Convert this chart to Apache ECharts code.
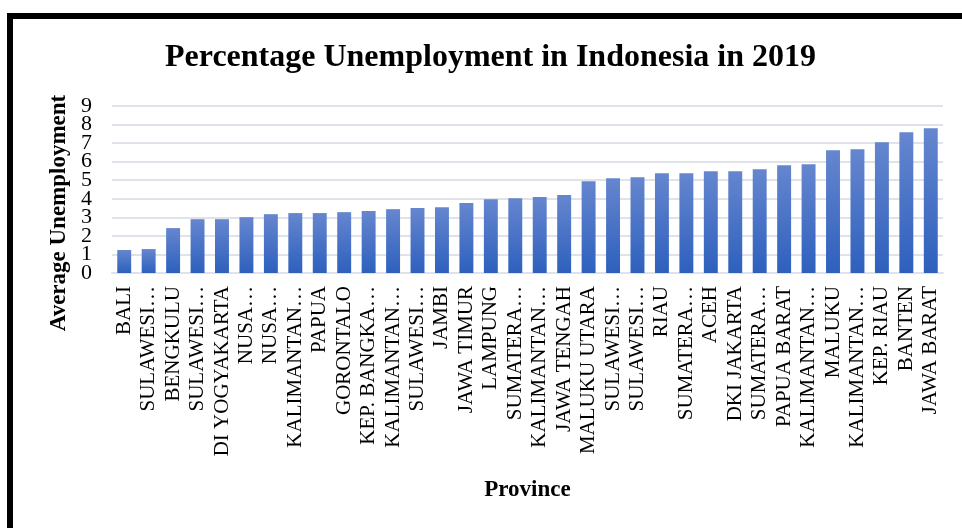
<!DOCTYPE html>
<html>
<head>
<meta charset="utf-8">
<script src="https://cdn.jsdelivr.net/npm/echarts@6/dist/echarts.min.js"></script>
<style>
html,body{margin:0;padding:0;background:#fff;}
#chart{width:962px;height:528px;}
</style>
</head>
<body>
<div id="chart"></div>
<script>
const titleText = 'Percentage Unemployment in Indonesia in 2019';
const xAxisTitle = 'Province';
const yAxisTitle = 'Average Unemployment';
const provinces = ['BALI','SULAWESI…','BENGKULU','SULAWESI…','DI YOGYAKARTA','NUSA…','NUSA…','KALIMANTAN…','PAPUA','GORONTALO','KEP. BANGKA…','KALIMANTAN…','SULAWESI…','JAMBI','JAWA TIMUR','LAMPUNG','SUMATERA…','KALIMANTAN…','JAWA TENGAH','MALUKU UTARA','SULAWESI…','SULAWESI…','RIAU','SUMATERA…','ACEH','DKI JAKARTA','SUMATERA…','PAPUA BARAT','KALIMANTAN…','MALUKU','KALIMANTAN…','KEP. RIAU','BANTEN','JAWA BARAT'];
const unemployment = [1.24,1.29,2.42,2.90,2.90,3.01,3.17,3.23,3.23,3.28,3.34,3.44,3.50,3.55,3.77,3.98,4.03,4.09,4.20,4.95,5.11,5.16,5.38,5.38,5.49,5.49,5.59,5.81,5.86,6.62,6.67,7.05,7.58,7.80];
const yMin = 0, yMax = 9, yStep = 1;

const serif = '"Liberation Serif", "Times New Roman", serif';
function yAxisDef(showParity, withGrid) {
  return {
    type: 'value', position: 'left',
    min: yMin, max: yMax, interval: yStep,
    axisLine: { show: false },
    axisTick: { show: false },
    splitLine: { show: withGrid, lineStyle: { color: '#dfe2e8', width: 2 } },
    axisLabel: {
      margin: 20, fontFamily: serif, fontSize: 22, color: '#000',
      showMinLabel: true, showMaxLabel: true,
      formatter: v => (Math.round(v) % 2 === showParity ? String(v) : '')
    }
  };
}
const chart = echarts.init(document.getElementById('chart'));
chart.setOption({
  animation: false,
  backgroundColor: '#fff',
  title: {
    text: titleText,
    left: 160,
    top: 37,
    textStyle: { fontFamily: serif, fontWeight: 'bold', fontSize: 32, color: '#000' }
  },
  grid: { left: 112, top: 106, width: 831, height: 167, containLabel: false },
  xAxis: {
    type: 'category',
    data: provinces,
    name: xAxisTitle,
    nameLocation: 'middle',
    nameGap: 206,
    nameTextStyle: { fontFamily: serif, fontWeight: 'bold', fontSize: 23, color: '#000' },
    axisLine: { show: true, lineStyle: { color: '#dfe2e8', width: 2 } },
    axisTick: { show: false },
    axisLabel: {
      interval: 0, rotate: 90, margin: 13,
      fontFamily: serif, fontSize: 21, color: '#000'
    }
  },
  yAxis: [yAxisDef(0, true), yAxisDef(1, false)],
  series: [{
    type: 'bar',
    data: unemployment,
    yAxisIndex: 0,
    barCategoryGap: '43%',
    itemStyle: {
      color: new echarts.graphic.LinearGradient(0, 0, 0, 1, [
        { offset: 0, color: '#6686cf' },
        { offset: 1, color: '#2d60bd' }
      ])
    }
  }],
  graphic: [
    { type: 'rect', shape: { x: 7, y: 13, width: 955, height: 6 }, style: { fill: '#000' } },
    { type: 'rect', shape: { x: 7, y: 13, width: 6, height: 515 }, style: { fill: '#000' } },
    {
      type: 'text', x: 59, y: 213, rotation: Math.PI / 2,
      style: {
        text: yAxisTitle, fontFamily: serif, fontWeight: 'bold', fontSize: 23,
        fill: '#000', align: 'center', verticalAlign: 'middle'
      }
    }
  ]
});
</script>
</body>
</html>
